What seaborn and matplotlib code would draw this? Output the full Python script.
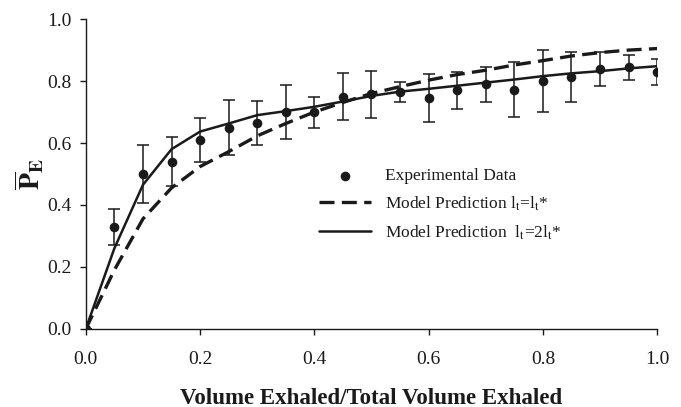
import numpy as np
import pandas as pd
import matplotlib
matplotlib.use("Agg")
import matplotlib.pyplot as plt
import seaborn as sns

# fraction of total volume exhaled
volume = [0.0, 0.05, 0.10, 0.15, 0.20, 0.25, 0.30, 0.35, 0.40, 0.45, 0.50,
          0.55, 0.60, 0.65, 0.70, 0.75, 0.80, 0.85, 0.90, 0.95, 1.00]

# experimental data (mean and error)
exp_mean = [0.0, 0.33, 0.50, 0.54, 0.61, 0.65, 0.665, 0.70, 0.70, 0.75, 0.757,
            0.765, 0.745, 0.77, 0.79, 0.772, 0.80, 0.813, 0.84, 0.845, 0.828]
exp_err = [0.0, 0.058, 0.095, 0.08, 0.07, 0.088, 0.07, 0.088, 0.05, 0.077, 0.075,
           0.033, 0.077, 0.06, 0.057, 0.088, 0.10, 0.08, 0.055, 0.04, 0.042]

# model predictions
model_1 = [0.0, 0.19, 0.355, 0.455, 0.524, 0.572, 0.623, 0.663, 0.70, 0.731, 0.76,
           0.782, 0.803, 0.821, 0.835, 0.852, 0.866, 0.881, 0.892, 0.90, 0.905]
model_2 = [0.0, 0.26, 0.465, 0.58, 0.637, 0.663, 0.69, 0.703, 0.717, 0.734, 0.752,
           0.766, 0.775, 0.785, 0.795, 0.805, 0.816, 0.825, 0.832, 0.841, 0.848]

df = pd.DataFrame({"volume": volume, "mean": exp_mean, "err": exp_err,
                   "m1": model_1, "m2": model_2})

sns.set_style("ticks")
plt.rcParams["font.family"] = ["Liberation Serif", "DejaVu Serif"]
plt.rcParams["mathtext.fontset"] = "stix"
ink = "#1a1a1a"

fig, ax = plt.subplots(figsize=(6.81, 4.07), dpi=100)
fig.subplots_adjust(left=0.126, right=0.965, top=0.953, bottom=0.192)

# error bars first, then the points
ax.errorbar(df["volume"], df["mean"], yerr=df["err"], fmt="none",
            ecolor=ink, elinewidth=1.1, capsize=4, capthick=1.1, zorder=2)
sns.scatterplot(data=df, x="volume", y="mean", ax=ax, color=ink, s=48,
                edgecolor=ink, linewidth=0, zorder=3,
                label="Experimental Data")

sns.lineplot(data=df, x="volume", y="m1", ax=ax, color=ink, linewidth=2.4,
             dashes=False, zorder=4,
             label=r"Model Prediction l$_\mathrm{t}$=l$_\mathrm{t}$*")
ax.lines[-1].set_dashes((4.5, 2.2))
sns.lineplot(data=df, x="volume", y="m2", ax=ax, color=ink, linewidth=1.8,
             zorder=4,
             label=r"Model Prediction  l$_\mathrm{t}$=2l$_\mathrm{t}$*")

ax.set_xlim(0, 1.0)
ax.set_ylim(0, 1.0)
ax.set_xticks(np.arange(0, 1.01, 0.2))
ax.set_yticks(np.arange(0, 1.01, 0.2))
ax.xaxis.set_major_formatter(matplotlib.ticker.FormatStrFormatter("%.1f"))
ax.yaxis.set_major_formatter(matplotlib.ticker.FormatStrFormatter("%.1f"))
ax.tick_params(labelsize=14, colors=ink, length=4, width=1.0, direction="out")
ax.tick_params(axis="x", pad=12)
ax.tick_params(axis="y", pad=6)
sns.despine(ax=ax)
for s in ["left", "bottom"]:
    ax.spines[s].set_color(ink)
    ax.spines[s].set_linewidth(1.0)

ax.set_xlabel("Volume Exhaled/Total Volume Exhaled", fontsize=16.5,
              fontweight="bold", color=ink, labelpad=14)
ax.set_ylabel(r"$\overline{\mathbf{P}}_{\mathbf{E}}$", fontsize=20, color=ink,
              labelpad=1)

leg = ax.legend(loc="upper left", bbox_to_anchor=(0.38, 0.57), frameon=False,
                fontsize=12.5, handlelength=3.0, handletextpad=0.8,
                labelspacing=0.6)
for t in leg.get_texts():
    t.set_color(ink)

fig.savefig("out.png", dpi=100)
